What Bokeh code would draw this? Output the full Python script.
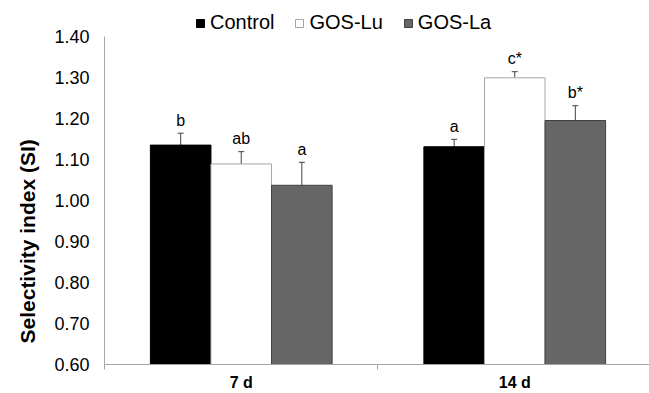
from bokeh.plotting import figure
from bokeh.models import (ColumnDataSource, Range1d, FixedTicker, NumeralTickFormatter,
                          Legend, LegendItem, Whisker, TeeHead, Title)
from bokeh.core.properties import value
from bokeh.embed import file_html
from bokeh.resources import INLINE

# ---- data ----
days = ["7 d", "14 d"]
groups = ["Control", "GOS-Lu", "GOS-La"]
control_mean = [1.135, 1.131]
gos_lu_mean = [1.089, 1.299]
gos_la_mean = [1.037, 1.195]
control_err = [0.029, 0.018]
gos_lu_err = [0.030, 0.015]
gos_la_err = [0.056, 0.036]
control_letters = ["b", "a"]
gos_lu_letters = ["ab", "c*"]
gos_la_letters = ["a", "b*"]
y_ticks = [0.6, 0.7, 0.8, 0.9, 1.0, 1.1, 1.2, 1.3, 1.4]
y_title = "Selectivity  index (SI)"

means = [control_mean, gos_lu_mean, gos_la_mean]
errs = [control_err, gos_lu_err, gos_la_err]
letters = [control_letters, gos_lu_letters, gos_la_letters]

# ---- styles / layout ----
FONT = "Liberation Sans"
fills = ["#000000", "#ffffff", "#666666"]
outlines = ["#000000", "#a6a6a6", "#404040"]
bar_w = 0.2215
offsets = [-bar_w, 0.0, bar_w]
y_min, y_max = y_ticks[0], y_ticks[-1]

W, H = 649, 393
left_b, top_b, bot_b = 103, 8, 28
frame_w = W - left_b
frame_h = H - top_b - bot_b
cat_px = 274.0        # pixels per day group
unit_px = 411.25      # pixels per 1.0 of SI
y_end = y_min + frame_h / unit_px   # extra room above 1.40 for the legend

p = figure(width=W, height=H, output_backend="svg", toolbar_location=None,
           x_range=Range1d(0, frame_w / cat_px), y_range=Range1d(y_min, y_end),
           min_border_left=left_b, min_border_right=0, min_border_top=top_b,
           min_border_bottom=bot_b)
p.outline_line_color = None
p.xgrid.visible = False
p.ygrid.visible = False
p.background_fill_color = "white"
p.border_fill_color = "white"

renderers = []
for gi, g in enumerate(groups):
    xs = [i + 0.5 + offsets[gi] for i in range(len(days))]
    src = ColumnDataSource(dict(
        x=xs, top=means[gi], bottom=[y_min] * len(days),
        upper=[m + e for m, e in zip(means[gi], errs[gi])],
        letter=letters[gi]))
    r = p.vbar(x="x", top="top", bottom="bottom", width=bar_w, source=src,
               fill_color=fills[gi], line_color=outlines[gi], line_width=1)
    renderers.append(r)
    wk = Whisker(source=src, base="x", upper="upper", lower="top",
                 dimension="height", line_color="#404040", line_width=1,
                 upper_head=TeeHead(size=6, line_color="#404040", line_width=1),
                 lower_head=None)
    p.add_layout(wk)
    p.text(x="x", y="upper", text="letter", source=src, text_align="center",
           text_baseline="alphabetic", y_offset=-13,
           text_font=value(FONT), text_font_size="16px", text_color="#000000")

# ---- axes ----
ax = p.xaxis[0]
ax.ticker = FixedTicker(ticks=[i + 0.5 for i in range(len(days))],
                        minor_ticks=list(range(len(days) + 1)))
ax.major_label_overrides = {i + 0.5: d for i, d in enumerate(days)}
ax.major_tick_out = 0
ax.major_tick_in = 0
ax.minor_tick_out = 5
ax.minor_tick_in = 0
ax.minor_tick_line_color = "#a6a6a6"
ax.axis_line_color = "#a6a6a6"
ax.major_label_standoff = 4
ax.major_label_text_font = FONT
ax.major_label_text_font_style = "bold"
ax.major_label_text_font_size = "16px"
ax.major_label_text_color = "#000000"

ay = p.yaxis[0]
ay.ticker = FixedTicker(ticks=y_ticks, minor_ticks=[])
ay.formatter = NumeralTickFormatter(format="0.00")
ay.bounds = (y_min, y_max)
ay.major_tick_out = 0
ay.major_tick_in = 0
ay.minor_tick_out = 0
ay.minor_tick_in = 0
ay.axis_line_color = "#a6a6a6"
ay.major_label_standoff = 15
ay.major_label_text_font = FONT
ay.major_label_text_font_size = "18px"
ay.major_label_text_color = "#000000"

ytitle = Title(text=y_title, align="left", offset=21, standoff=26,
               text_font=FONT, text_font_style="bold", text_font_size="21px",
               text_color="#000000")
p.add_layout(ytitle, "left")

# ---- legend (inside the frame, above the 1.40 line) ----
legend = Legend(items=[LegendItem(label=g, renderers=[r]) for g, r in zip(groups, renderers)],
                orientation="horizontal", location=(91, 330),
                glyph_width=10, glyph_height=10, label_height=22, label_standoff=5,
                spacing=20, padding=0, margin=0, border_line_color=None,
                background_fill_alpha=0, label_text_font=FONT,
                label_text_font_size="20px", label_text_color="#000000")
p.add_layout(legend)

open("out.html", "w").write(file_html(p, INLINE))
